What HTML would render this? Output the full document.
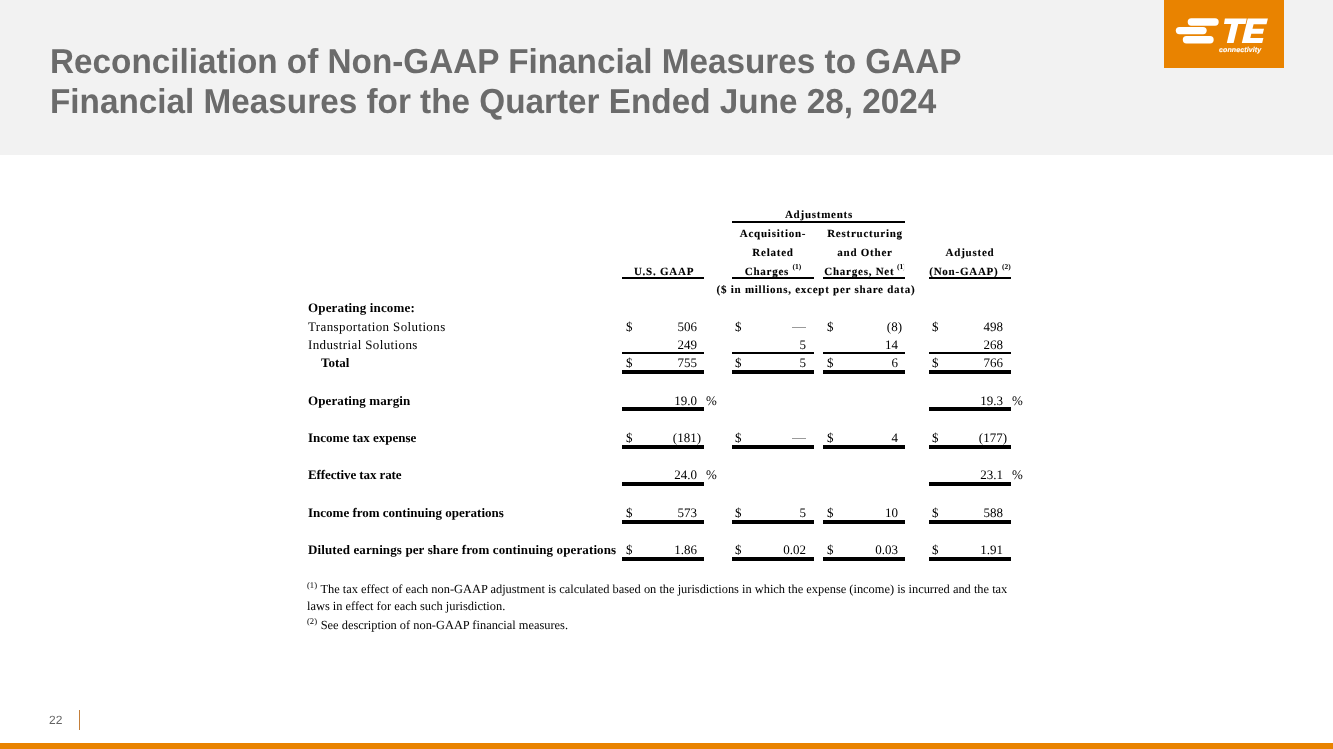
<!DOCTYPE html>
<html><head><meta charset="utf-8"><style>
html,body{margin:0;padding:0;background:#fff;}
body{width:1333px;height:749px;position:relative;overflow:hidden;}
.t{position:absolute;line-height:0;white-space:nowrap;will-change:transform;text-rendering:geometricPrecision;}
.r{position:absolute;}
sup{font-size:7.5px;vertical-align:0;position:relative;top:-6.2px;letter-spacing:0;-webkit-text-stroke:0;}
sup.clip{clip-path:inset(-5px 1.6px -5px -5px);margin-left:-1px;}
sup.fs{font-size:8.6px;top:-5px;margin-right:0.6px;}
</style></head><body>
<div class="r" style="left:0px;top:0px;width:1333px;height:155px;background:#f2f2f2"></div>
<div class="t" style="top:63px;font-size:33.3px;font-family:'Liberation Sans', sans-serif;font-weight:bold;color:#6b6b6b;left:50px;transform:scaleY(1.04);transform-origin:0 11px;">Reconciliation of Non-GAAP Financial Measures to GAAP</div>
<div class="t" style="top:103px;font-size:33.3px;font-family:'Liberation Sans', sans-serif;font-weight:bold;color:#6b6b6b;left:50px;transform:scaleY(1.04);transform-origin:0 11px;">Financial Measures for the Quarter Ended June 28, 2024</div>
<div class="r" style="left:1164px;top:0px;width:120px;height:68px;background:#e98300"></div>
<svg class="r" style="left:0;top:0" width="1333" height="70" viewBox="0 0 1333 70">
<g fill="#fff">
<rect x="1187.7" y="18.3" width="31" height="7.4" rx="3.7"/>
<rect x="1175.8" y="26.9" width="30.9" height="7.4" rx="3.7"/>
<rect x="1182.8" y="36" width="30.9" height="7.4" rx="3.7"/>
<polygon points="1224.9,18.6 1246.8,18.6 1245.6,24 1238.2,24 1233.6,43 1226.8,43 1231.3,24 1224,24"/>
<polygon points="1247.7,18.5 1267.9,18.5 1266.5,24.2 1253.6,24.2 1252.5,28.7 1264,28.7 1262.8,33.7 1251.3,33.7 1250.3,38 1263.4,38 1262.2,43 1241.8,43"/>
</g></svg>
<div class="t" style="top:50.8px;font-size:7px;font-family:'Liberation Sans', sans-serif;font-weight:bold;color:#fff;letter-spacing:0.12px;left:1219px;font-style:italic;-webkit-text-stroke:0.15px #fff;">connectivity</div>
<div class="r" style="left:0px;top:743px;width:1333px;height:6px;background:#e98300"></div>
<div class="t" style="top:720px;font-size:12px;font-family:'Liberation Sans', sans-serif;font-weight:normal;color:#636363;left:49px;">22</div>
<div class="r" style="left:79px;top:710px;width:1.3px;height:20px;background:#c47f3a"></div>
<div class="t" style="top:215px;font-size:11px;font-family:'Liberation Serif', serif;font-weight:bold;color:#000;letter-spacing:0.75px;left:518.5px;width:600px;text-align:center;-webkit-text-stroke:0.12px #000;">Adjustments</div>
<div class="r" style="left:732px;top:221px;width:173px;height:2px;background:#000"></div>
<div class="t" style="top:233.8px;font-size:11px;font-family:'Liberation Serif', serif;font-weight:bold;color:#000;letter-spacing:0.75px;left:473px;width:600px;text-align:center;-webkit-text-stroke:0.12px #000;">Acquisition-</div>
<div class="t" style="top:252.60000000000002px;font-size:11px;font-family:'Liberation Serif', serif;font-weight:bold;color:#000;letter-spacing:0.75px;left:473px;width:600px;text-align:center;-webkit-text-stroke:0.12px #000;">Related</div>
<div class="t" style="top:272px;font-size:11px;font-family:'Liberation Serif', serif;font-weight:bold;color:#000;letter-spacing:0.75px;left:473px;width:600px;text-align:center;-webkit-text-stroke:0.12px #000;">Charges <sup>(1)</sup></div>
<div class="t" style="top:233.8px;font-size:11px;font-family:'Liberation Serif', serif;font-weight:bold;color:#000;letter-spacing:0.75px;left:564.5px;width:600px;text-align:center;-webkit-text-stroke:0.12px #000;">Restructuring</div>
<div class="t" style="top:252.60000000000002px;font-size:11px;font-family:'Liberation Serif', serif;font-weight:bold;color:#000;letter-spacing:0.75px;left:564.5px;width:600px;text-align:center;-webkit-text-stroke:0.12px #000;">and Other</div>
<div class="t" style="top:272px;font-size:11px;font-family:'Liberation Serif', serif;font-weight:bold;color:#000;letter-spacing:0.75px;left:564.5px;width:600px;text-align:center;-webkit-text-stroke:0.12px #000;">Charges, Net <sup class="clip">(1)</sup></div>
<div class="t" style="top:272px;font-size:11px;font-family:'Liberation Serif', serif;font-weight:bold;color:#000;letter-spacing:0.75px;left:363.5px;width:600px;text-align:center;-webkit-text-stroke:0.12px #000;">U.S. GAAP</div>
<div class="t" style="top:252.60000000000002px;font-size:11px;font-family:'Liberation Serif', serif;font-weight:bold;color:#000;letter-spacing:0.75px;left:670px;width:600px;text-align:center;-webkit-text-stroke:0.12px #000;">Adjusted</div>
<div class="t" style="top:272px;font-size:11px;font-family:'Liberation Serif', serif;font-weight:bold;color:#000;letter-spacing:0.75px;left:670px;width:600px;text-align:center;-webkit-text-stroke:0.12px #000;">(Non-GAAP) <sup>(2)</sup></div>
<div class="r" style="left:622px;top:277px;width:82px;height:2px;background:#000"></div>
<div class="r" style="left:732px;top:277px;width:82px;height:2px;background:#000"></div>
<div class="r" style="left:823px;top:277px;width:82px;height:2px;background:#000"></div>
<div class="r" style="left:929px;top:277px;width:82px;height:2px;background:#000"></div>
<div class="t" style="top:289.7px;font-size:11px;font-family:'Liberation Serif', serif;font-weight:bold;color:#000;letter-spacing:0.75px;left:516px;width:600px;text-align:center;-webkit-text-stroke:0.12px #000;">($ in millions, except per share data)</div>
<div class="t" style="top:308px;font-size:13px;font-family:'Liberation Serif', serif;font-weight:bold;color:#000;letter-spacing:0.15px;left:308px;">Operating income:</div>
<div class="t" style="top:327px;font-size:13px;font-family:'Liberation Serif', serif;font-weight:normal;color:#000;letter-spacing:0.38px;left:308px;">Transportation Solutions</div>
<div class="t" style="top:345px;font-size:13px;font-family:'Liberation Serif', serif;font-weight:normal;color:#000;letter-spacing:0.38px;left:308px;">Industrial Solutions</div>
<div class="t" style="top:363px;font-size:13px;font-family:'Liberation Serif', serif;font-weight:bold;color:#000;left:321px;">Total</div>
<div class="t" style="top:401px;font-size:13px;font-family:'Liberation Serif', serif;font-weight:bold;color:#000;letter-spacing:0.1px;left:308px;">Operating margin</div>
<div class="t" style="top:438px;font-size:13px;font-family:'Liberation Serif', serif;font-weight:bold;color:#000;left:308px;">Income tax expense</div>
<div class="t" style="top:475px;font-size:13px;font-family:'Liberation Serif', serif;font-weight:bold;color:#000;letter-spacing:-0.1px;left:308px;">Effective tax rate</div>
<div class="t" style="top:513px;font-size:13px;font-family:'Liberation Serif', serif;font-weight:bold;color:#000;left:308px;">Income from continuing operations</div>
<div class="t" style="top:550px;font-size:13px;font-family:'Liberation Serif', serif;font-weight:bold;color:#000;letter-spacing:0.12px;left:308px;">Diluted earnings per share from continuing operations</div>
<div class="t" style="top:327px;font-size:13px;font-family:'Liberation Serif', serif;font-weight:normal;color:#000;left:625.5px;">$</div>
<div class="t" style="top:327px;font-size:13px;font-family:'Liberation Serif', serif;font-weight:normal;color:#000;left:297px;width:400px;text-align:right;">506</div>
<div class="t" style="top:327px;font-size:13px;font-family:'Liberation Serif', serif;font-weight:normal;color:#000;left:734.5px;">$</div>
<div class="r" style="left:792px;top:327px;width:14px;height:1px;background:#9a9a9a"></div>
<div class="t" style="top:327px;font-size:13px;font-family:'Liberation Serif', serif;font-weight:normal;color:#000;left:826.5px;">$</div>
<div class="t" style="top:327px;font-size:13px;font-family:'Liberation Serif', serif;font-weight:normal;color:#000;left:502.29999999999995px;width:400px;text-align:right;">(8)</div>
<div class="t" style="top:327px;font-size:13px;font-family:'Liberation Serif', serif;font-weight:normal;color:#000;left:931.5px;">$</div>
<div class="t" style="top:327px;font-size:13px;font-family:'Liberation Serif', serif;font-weight:normal;color:#000;left:603px;width:400px;text-align:right;">498</div>
<div class="t" style="top:345px;font-size:13px;font-family:'Liberation Serif', serif;font-weight:normal;color:#000;left:297px;width:400px;text-align:right;">249</div>
<div class="t" style="top:345px;font-size:13px;font-family:'Liberation Serif', serif;font-weight:normal;color:#000;left:406px;width:400px;text-align:right;">5</div>
<div class="t" style="top:345px;font-size:13px;font-family:'Liberation Serif', serif;font-weight:normal;color:#000;left:498px;width:400px;text-align:right;">14</div>
<div class="t" style="top:345px;font-size:13px;font-family:'Liberation Serif', serif;font-weight:normal;color:#000;left:603px;width:400px;text-align:right;">268</div>
<div class="t" style="top:363px;font-size:13px;font-family:'Liberation Serif', serif;font-weight:normal;color:#000;left:625.5px;">$</div>
<div class="t" style="top:363px;font-size:13px;font-family:'Liberation Serif', serif;font-weight:normal;color:#000;left:297px;width:400px;text-align:right;">755</div>
<div class="t" style="top:363px;font-size:13px;font-family:'Liberation Serif', serif;font-weight:normal;color:#000;left:734.5px;">$</div>
<div class="t" style="top:363px;font-size:13px;font-family:'Liberation Serif', serif;font-weight:normal;color:#000;left:406px;width:400px;text-align:right;">5</div>
<div class="t" style="top:363px;font-size:13px;font-family:'Liberation Serif', serif;font-weight:normal;color:#000;left:826.5px;">$</div>
<div class="t" style="top:363px;font-size:13px;font-family:'Liberation Serif', serif;font-weight:normal;color:#000;left:498px;width:400px;text-align:right;">6</div>
<div class="t" style="top:363px;font-size:13px;font-family:'Liberation Serif', serif;font-weight:normal;color:#000;left:931.5px;">$</div>
<div class="t" style="top:363px;font-size:13px;font-family:'Liberation Serif', serif;font-weight:normal;color:#000;left:603px;width:400px;text-align:right;">766</div>
<div class="t" style="top:438px;font-size:13px;font-family:'Liberation Serif', serif;font-weight:normal;color:#000;left:625.5px;">$</div>
<div class="t" style="top:438px;font-size:13px;font-family:'Liberation Serif', serif;font-weight:normal;color:#000;left:301.29999999999995px;width:400px;text-align:right;">(181)</div>
<div class="t" style="top:438px;font-size:13px;font-family:'Liberation Serif', serif;font-weight:normal;color:#000;left:734.5px;">$</div>
<div class="r" style="left:792px;top:438px;width:14px;height:1px;background:#9a9a9a"></div>
<div class="t" style="top:438px;font-size:13px;font-family:'Liberation Serif', serif;font-weight:normal;color:#000;left:826.5px;">$</div>
<div class="t" style="top:438px;font-size:13px;font-family:'Liberation Serif', serif;font-weight:normal;color:#000;left:498px;width:400px;text-align:right;">4</div>
<div class="t" style="top:438px;font-size:13px;font-family:'Liberation Serif', serif;font-weight:normal;color:#000;left:931.5px;">$</div>
<div class="t" style="top:438px;font-size:13px;font-family:'Liberation Serif', serif;font-weight:normal;color:#000;left:607.3px;width:400px;text-align:right;">(177)</div>
<div class="t" style="top:513px;font-size:13px;font-family:'Liberation Serif', serif;font-weight:normal;color:#000;left:625.5px;">$</div>
<div class="t" style="top:513px;font-size:13px;font-family:'Liberation Serif', serif;font-weight:normal;color:#000;left:297px;width:400px;text-align:right;">573</div>
<div class="t" style="top:513px;font-size:13px;font-family:'Liberation Serif', serif;font-weight:normal;color:#000;left:734.5px;">$</div>
<div class="t" style="top:513px;font-size:13px;font-family:'Liberation Serif', serif;font-weight:normal;color:#000;left:406px;width:400px;text-align:right;">5</div>
<div class="t" style="top:513px;font-size:13px;font-family:'Liberation Serif', serif;font-weight:normal;color:#000;left:826.5px;">$</div>
<div class="t" style="top:513px;font-size:13px;font-family:'Liberation Serif', serif;font-weight:normal;color:#000;left:498px;width:400px;text-align:right;">10</div>
<div class="t" style="top:513px;font-size:13px;font-family:'Liberation Serif', serif;font-weight:normal;color:#000;left:931.5px;">$</div>
<div class="t" style="top:513px;font-size:13px;font-family:'Liberation Serif', serif;font-weight:normal;color:#000;left:603px;width:400px;text-align:right;">588</div>
<div class="t" style="top:550px;font-size:13px;font-family:'Liberation Serif', serif;font-weight:normal;color:#000;left:625.5px;">$</div>
<div class="t" style="top:550px;font-size:13px;font-family:'Liberation Serif', serif;font-weight:normal;color:#000;left:297px;width:400px;text-align:right;">1.86</div>
<div class="t" style="top:550px;font-size:13px;font-family:'Liberation Serif', serif;font-weight:normal;color:#000;left:734.5px;">$</div>
<div class="t" style="top:550px;font-size:13px;font-family:'Liberation Serif', serif;font-weight:normal;color:#000;left:406px;width:400px;text-align:right;">0.02</div>
<div class="t" style="top:550px;font-size:13px;font-family:'Liberation Serif', serif;font-weight:normal;color:#000;left:826.5px;">$</div>
<div class="t" style="top:550px;font-size:13px;font-family:'Liberation Serif', serif;font-weight:normal;color:#000;left:498px;width:400px;text-align:right;">0.03</div>
<div class="t" style="top:550px;font-size:13px;font-family:'Liberation Serif', serif;font-weight:normal;color:#000;left:931.5px;">$</div>
<div class="t" style="top:550px;font-size:13px;font-family:'Liberation Serif', serif;font-weight:normal;color:#000;left:603px;width:400px;text-align:right;">1.91</div>
<div class="t" style="top:401px;font-size:13px;font-family:'Liberation Serif', serif;font-weight:normal;color:#000;left:297px;width:400px;text-align:right;">19.0</div>
<div class="t" style="top:401px;font-size:13px;font-family:'Liberation Serif', serif;font-weight:normal;color:#000;left:706px;">%</div>
<div class="t" style="top:401px;font-size:13px;font-family:'Liberation Serif', serif;font-weight:normal;color:#000;left:603px;width:400px;text-align:right;">19.3</div>
<div class="t" style="top:401px;font-size:13px;font-family:'Liberation Serif', serif;font-weight:normal;color:#000;left:1012px;">%</div>
<div class="t" style="top:475px;font-size:13px;font-family:'Liberation Serif', serif;font-weight:normal;color:#000;left:297px;width:400px;text-align:right;">24.0</div>
<div class="t" style="top:475px;font-size:13px;font-family:'Liberation Serif', serif;font-weight:normal;color:#000;left:706px;">%</div>
<div class="t" style="top:475px;font-size:13px;font-family:'Liberation Serif', serif;font-weight:normal;color:#000;left:603px;width:400px;text-align:right;">23.1</div>
<div class="t" style="top:475px;font-size:13px;font-family:'Liberation Serif', serif;font-weight:normal;color:#000;left:1012px;">%</div>
<div class="r" style="left:622px;top:352px;width:82px;height:2px;background:#000"></div>
<div class="r" style="left:622px;top:370px;width:82px;height:4px;background:#000"></div>
<div class="r" style="left:622px;top:445px;width:82px;height:4px;background:#000"></div>
<div class="r" style="left:622px;top:520px;width:82px;height:4px;background:#000"></div>
<div class="r" style="left:622px;top:557px;width:82px;height:4px;background:#000"></div>
<div class="r" style="left:732px;top:352px;width:82px;height:2px;background:#000"></div>
<div class="r" style="left:732px;top:370px;width:82px;height:4px;background:#000"></div>
<div class="r" style="left:732px;top:445px;width:82px;height:4px;background:#000"></div>
<div class="r" style="left:732px;top:520px;width:82px;height:4px;background:#000"></div>
<div class="r" style="left:732px;top:557px;width:82px;height:4px;background:#000"></div>
<div class="r" style="left:823px;top:352px;width:82px;height:2px;background:#000"></div>
<div class="r" style="left:823px;top:370px;width:82px;height:4px;background:#000"></div>
<div class="r" style="left:823px;top:445px;width:82px;height:4px;background:#000"></div>
<div class="r" style="left:823px;top:520px;width:82px;height:4px;background:#000"></div>
<div class="r" style="left:823px;top:557px;width:82px;height:4px;background:#000"></div>
<div class="r" style="left:929px;top:352px;width:82px;height:2px;background:#000"></div>
<div class="r" style="left:929px;top:370px;width:82px;height:4px;background:#000"></div>
<div class="r" style="left:929px;top:445px;width:82px;height:4px;background:#000"></div>
<div class="r" style="left:929px;top:520px;width:82px;height:4px;background:#000"></div>
<div class="r" style="left:929px;top:557px;width:82px;height:4px;background:#000"></div>
<div class="r" style="left:622px;top:407px;width:82px;height:4px;background:#000"></div>
<div class="r" style="left:622px;top:482px;width:82px;height:4px;background:#000"></div>
<div class="r" style="left:929px;top:407px;width:82px;height:4px;background:#000"></div>
<div class="r" style="left:929px;top:482px;width:82px;height:4px;background:#000"></div>
<div class="t" style="top:589px;font-size:12.4px;font-family:'Liberation Serif', serif;font-weight:normal;color:#000;left:307px;"><sup class="fs">(1)</sup> The tax effect of each non-GAAP adjustment is calculated based on the jurisdictions in which the expense (income) is incurred and the tax</div>
<div class="t" style="top:606px;font-size:12.4px;font-family:'Liberation Serif', serif;font-weight:normal;color:#000;left:307px;">laws in effect for each such jurisdiction.</div>
<div class="t" style="top:625px;font-size:12.4px;font-family:'Liberation Serif', serif;font-weight:normal;color:#000;left:307px;"><sup class="fs">(2)</sup> See description of non-GAAP financial measures.</div>
</body></html>
